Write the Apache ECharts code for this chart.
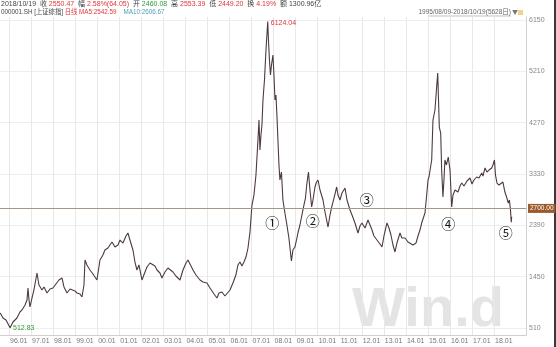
<!DOCTYPE html>
<html><head><meta charset="utf-8">
<script src="https://cdn.jsdelivr.net/npm/echarts@6/dist/echarts.min.js"></script>
<style>html,body{margin:0;padding:0;background:#fff;overflow:hidden}#c{width:556px;height:347px}</style>
</head><body><div id="c"></div>
<script>
// ---- data (Shanghai Composite 000001.SH, 1995/08/09 - 2018/10/19) ----
const dates = ['1995-08-09','1995-09-24','1995-11-12','1996-01-19','1996-03-07','1996-05-12','1996-07-01','1996-08-04','1996-09-23','1996-10-26','1996-11-11','1996-11-28','1996-12-14','1997-01-16','1997-02-18','1997-04-09','1997-05-12','1997-07-01','1997-08-03','1997-09-22','1997-11-10','1997-12-30','1998-02-17','1998-04-08','1998-05-28','1998-06-30','1998-08-19','1998-10-08','1998-11-10','1998-12-29','1999-02-01','1999-03-22','1999-04-24','1999-05-27','1999-06-13','1999-07-15','1999-09-03','1999-10-23','1999-12-28','2000-02-16','2000-04-05','2000-05-08','2000-06-27','2000-09-02','2000-10-22','2000-12-11','2001-01-13','2001-03-04','2001-04-22','2001-05-25','2001-06-27','2001-08-16','2001-09-18','2001-10-21','2001-11-23','2002-01-12','2002-03-03','2002-04-05','2002-05-25','2002-06-27','2002-08-16','2002-09-18','2002-11-06','2002-12-09','2003-01-28','2003-03-18','2003-04-20','2003-06-09','2003-07-28','2003-10-03','2003-11-22','2004-01-11','2004-02-13','2004-04-03','2004-05-06','2004-06-25','2004-08-30','2004-10-19','2004-12-24','2005-02-12','2005-04-19','2005-06-08','2005-07-11','2005-08-29','2005-10-18','2005-11-20','2006-01-09','2006-02-27','2006-04-17','2006-05-21','2006-06-23','2006-07-26','2006-08-28','2006-10-01','2006-11-03','2006-12-06','2007-01-08','2007-02-10','2007-03-15','2007-04-17','2007-05-04','2007-05-20','2007-06-06','2007-06-22','2007-07-09','2007-08-03','2007-08-28','2007-09-26','2007-10-08','2007-10-24','2007-11-10','2007-11-27','2007-12-21','2008-01-07','2008-01-24','2008-02-09','2008-02-25','2008-03-13','2008-03-30','2008-04-15','2008-05-10','2008-06-04','2008-07-07','2008-08-09','2008-09-11','2008-10-23','2008-11-17','2008-12-20','2009-01-22','2009-02-08','2009-03-13','2009-04-15','2009-05-18','2009-06-12','2009-07-07','2009-08-01','2009-08-26','2009-09-23','2009-10-15','2009-11-17','2009-12-12','2010-01-06','2010-02-08','2010-03-30','2010-05-02','2010-06-21','2010-07-24','2010-08-21','2010-09-28','2010-11-11','2010-12-03','2011-01-05','2011-02-07','2011-03-29','2011-05-01','2011-06-20','2011-07-23','2011-09-10','2011-10-30','2011-12-02','2012-01-04','2012-02-23','2012-04-13','2012-05-16','2012-06-18','2012-07-21','2012-09-09','2012-10-29','2012-12-01','2013-01-03','2013-02-22','2013-03-27','2013-04-29','2013-06-01','2013-07-04','2013-08-06','2013-09-25','2013-10-28','2013-12-17','2014-02-04','2014-03-09','2014-04-28','2014-06-17','2014-07-20','2014-08-22','2014-09-24','2014-11-13','2014-12-11','2015-01-02','2015-01-18','2015-02-04','2015-03-04','2015-03-25','2015-04-27','2015-05-25','2015-06-12','2015-06-25','2015-07-08','2015-07-31','2015-08-16','2015-09-06','2015-09-23','2015-10-09','2015-11-03','2015-12-03','2016-01-01','2016-01-29','2016-02-20','2016-03-24','2016-05-12','2016-06-15','2016-07-13','2016-08-20','2016-10-09','2016-11-28','2016-12-31','2017-02-02','2017-03-18','2017-04-26','2017-06-10','2017-07-01','2017-08-03','2017-09-05','2017-10-08','2017-11-22','2017-12-13','2018-01-07','2018-01-24','2018-02-18','2018-03-22','2018-04-24','2018-05-27','2018-06-29','2018-07-27','2018-08-23','2018-09-12','2018-09-29','2018-10-12','2018-10-19'];
const closes = [785,693,657,513,620,693,803,840,931,1023,1242,1023,895,1059,1206,1517,1297,1206,1261,1151,1224,1242,1316,1389,1426,1261,1151,1224,1242,1188,1151,1133,1078,1297,1755,1664,1572,1499,1389,1755,1847,1938,1975,2085,1993,2030,2121,2066,2195,2250,2121,1938,1718,1572,1664,1389,1535,1627,1700,1718,1645,1572,1517,1426,1535,1609,1609,1535,1462,1389,1572,1700,1755,1645,1572,1480,1389,1352,1334,1242,1133,1059,1151,1169,1096,1114,1206,1334,1480,1664,1718,1645,1718,1810,1975,2268,2762,2945,3311,3952,4318,3769,4044,4227,4685,5051,5600,6124,5783,5417,5142,5326,5509,5142,4685,4776,4410,3952,3495,3220,3366,2854,2616,2396,2158,1737,1938,1993,2158,2250,2396,2579,2762,2890,3165,3366,3037,2726,2854,3092,3183,3220,3037,2854,2634,2359,2579,2726,2890,3092,2945,2854,2982,3073,2854,2671,2579,2433,2250,2378,2433,2341,2487,2396,2304,2195,2121,2048,1993,2195,2433,2341,2213,2030,1902,2066,2250,2158,2158,2085,2121,2030,2066,2195,2304,2451,2616,2945,3220,3275,3311,3586,4318,4502,4923,5178,4685,4190,4080,3403,2909,3220,3586,3495,3641,3403,2726,2945,3037,3000,3110,3165,3110,3202,3257,3147,3220,3275,3257,3348,3293,3440,3366,3403,3440,3495,3586,3311,3165,3128,3092,3183,3000,2909,2799,2854,2671,2449,2550];

// axis ticks
const xTickYears = [1996,1997,1998,1999,2000,2001,2002,2003,2004,2005,2006,2007,2008,2009,2010,2011,2012,2013,2014,2015,2016,2017,2018];
const yTickMin = 510, yTickMax = 6150, yTickStep = 940;
const refLevel = 2700;

// annotations
const extremeNotes = [
  {date:'2007-09-26', value:6124.04, text:'6124.04', kind:'high'},
  {date:'1996-01-19', value:512.83, text:'512.83', kind:'low'}
];
const circleNotes = [
  ['①','2007-12-09',2445],
  ['②','2009-10-10',2475],
  ['③','2012-03-22',2867],
  ['④','2015-12-03',2414],
  ['⑤','2018-07-11',2262]
];

// ---- helpers ----
function toYear(s){
  const p = s.split('-').map(Number);
  const y = p[0];
  const t0 = Date.UTC(y,0,1), t1 = Date.UTC(y+1,0,1), t = Date.UTC(y,p[1]-1,p[2]);
  return y + (t - t0)/(t1 - t0);
}
const seriesData = dates.map((d,i)=>[toYear(d), closes[i]]);

const pxPerYear = 22.05;
const firstTickPx = 9;
const plotRight = 526;
const xMin = xTickYears[0] - firstTickPx/pxPerYear;
const xMax = xMin + plotRight/pxPerYear;

const CJK = '"Noto Sans CJK SC", "Liberation Sans", sans-serif';
const MIX = '"Liberation Sans", "Noto Sans CJK SC", sans-serif';
const RED = '#e0353b', GREEN = '#2f9a3a', DARK = '#444';
const HF = 7, HF2 = 6.3;

const chart = echarts.init(document.getElementById('c'), null, {renderer:'canvas'});
const option = {
  animation:false,
  backgroundColor:'#fff',
  grid:[
    {left:0, right:556-plotRight, top:17, bottom:12},
    {left:0, right:556-plotRight, top:20, bottom:19}
  ],
  xAxis:[
    {type:'value', gridIndex:0, min:xMin, max:xMax,
     axisLine:{show:true, lineStyle:{color:'#d0d0d0'}},
     axisTick:{show:false, customValues:xTickYears},
     axisLabel:{show:true, customValues:xTickYears, fontSize:7, color:'#777', fontFamily:'Liberation Sans', margin:3, align:'left', padding:[0,0,0,1],
       formatter:(v)=> String(Math.round(v)).slice(2)+'.01'},
     splitLine:{show:true, lineStyle:{color:'#e8e8e8', width:1}}},
    {type:'value', gridIndex:1, min:xMin, max:xMax, show:false}
  ],
  yAxis:[
    {type:'value', gridIndex:0, min:0, max:1, position:'right',
     axisLine:{show:true, lineStyle:{color:'#d0d0d0'}}, axisTick:{show:false}, axisLabel:{show:false}, splitLine:{show:false}},
    {type:'value', gridIndex:1, min:yTickMin, max:yTickMax, interval:yTickStep, position:'right',
     axisLine:{show:false}, axisTick:{show:false},
     axisLabel:{fontSize:7, color:'#888', fontFamily:'Liberation Sans', margin:3, formatter:(v)=>String(v)},
     splitLine:{show:true, lineStyle:{color:'#eeeeee'}}}
  ],
  graphic:[
    {type:'text', left:352, top:283, z:-1, silent:true,
     style:{text:'Win.d', font:'bold 56px "Liberation Sans", Arial, sans-serif', fill:'#e4e4e4'}},
    {type:'text', x:1, y:1,
     style:{
       text:'{d|2018/10/19}  {k|收} {r|2550.47}  {k|幅} {r|2.58%(64.05)}  {k|开} {g|2460.08}  {k|高} {r|2553.39}  {k|低} {r|2449.20}  {k|换} {r|4.19%}  {k|额} {k|1300.96亿}',
       font:HF+'px '+MIX,
       rich:{d:{fill:DARK,fontSize:HF,fontFamily:MIX},k:{fill:DARK,fontSize:HF,fontFamily:MIX},r:{fill:RED,fontSize:HF,fontFamily:MIX},g:{fill:GREEN,fontSize:HF,fontFamily:MIX}}
     }},
    {type:'text', x:1, y:9.5,
     style:{
       text:'{k|000001.SH [上证综指]} {r|日线} {r|MA5:2542.59}    {b|MA10:2606.67}',
       font:HF2+'px '+MIX,
       rich:{k:{fill:DARK,fontSize:HF2,fontFamily:MIX},r:{fill:RED,fontSize:HF2,fontFamily:MIX},b:{fill:'#4f9fb5',fontSize:HF2,fontFamily:MIX}}
     }},
    {type:'text', right:556-511, top:9,
     style:{text:'1995/08/09-2018/10/19(5628日)', font:'6.5px '+MIX, fill:'#666'}},
    {type:'line', shape:{x1:428, y1:16, x2:511, y2:16}, style:{stroke:'#999', lineWidth:0.6}},
    {type:'text', left:512, top:9, style:{text:'▼', font:'6px '+CJK, fill:'#777'}},
    {type:'rect', shape:{x:518, y:10, width:5, height:5}, style:{fill:'#f2d28a'}},
    {type:'rect', shape:{x:554, y:0, width:2, height:347}, style:{fill:'#3a3a3a'}}
  ],
  series:[{
    type:'line', xAxisIndex:1, yAxisIndex:1, data:seriesData,
    showSymbol:false, symbol:'none', z:3,
    lineStyle:{color:'#4d3a40', width:1.1},
    markLine:{
      silent:true, symbol:'none',
      lineStyle:{color:'#a3968b', width:1, type:'solid'},
      label:{show:true, position:'end', formatter:refLevel.toFixed(2), fontSize:6.5, color:'#fff',
             backgroundColor:'#9a5a2c', padding:[1,2,1,2], distance:2, fontFamily:'Liberation Sans'},
      data:[{yAxis:refLevel}]
    },
    markPoint:{
      silent:true, symbol:'circle', symbolSize:0,
      data:[].concat(
        extremeNotes.map(n=>({coord:[toYear(n.date), n.value], itemStyle:{color:'rgba(0,0,0,0)'},
          label:{show:true, position:'right', distance:3, offset:[0, n.kind==='high'?2:0], formatter:n.text, fontSize:7,
                 fontFamily:'Liberation Sans', color: n.kind==='high'?RED:GREEN}})),
        circleNotes.map(n=>({coord:[toYear(n[1]), n[2]], itemStyle:{color:'rgba(0,0,0,0)'},
          label:{show:true, position:'inside', formatter:n[0], fontSize:14, fontFamily:CJK, color:'#1a1a1a'}}))
      )
    }
  }]
};
chart.setOption(option);
</script>
</body></html>
